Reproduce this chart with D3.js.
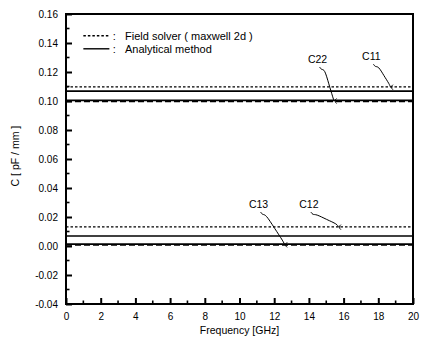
<!DOCTYPE html>
<html>
<head>
<meta charset="utf-8">
<script src="https://cdn.jsdelivr.net/npm/d3@7"></script>
<style>
  body { margin: 0; background: #fff; }
  svg { font-family: "Liberation Sans", Arial, sans-serif; }
</style>
</head>
<body>
<svg id="chart"></svg>
<script>
// data
const freqRange = [0, 20];
const xTicks = [0, 2, 4, 6, 8, 10, 12, 14, 16, 18, 20];
const yTicks = [-0.04, -0.02, 0.0, 0.02, 0.04, 0.06, 0.08, 0.1, 0.12, 0.14, 0.16];
const fieldSolver = [
  { name: "C11", value: 0.1097 },
  { name: "C22", value: 0.0996 },
  { name: "C12", value: 0.0132 },
  { name: "C13", value: 0.0006 }
];
const analytical = [
  { name: "C11", value: 0.1068 },
  { name: "C22", value: 0.1004 },
  { name: "C12", value: 0.0069 },
  { name: "C13", value: 0.0013 }
];
// label position and where the leader ends, in data units
const labels = [
  { text: "C22", lx: 14.5, ly: 0.1262, ex: 15.45, ey: 0.1 },
  { text: "C11", lx: 17.6, ly: 0.1282, ex: 18.7, ey: 0.1095 },
  { text: "C13", lx: 11.1, ly: 0.0262, ex: 12.6, ey: 0.0008 },
  { text: "C12", lx: 14.0, ly: 0.0262, ex: 15.7, ey: 0.013 }
];
const legendItems = [
  { label: "Field solver ( maxwell 2d )", dash: "2.5,2", ly: 0.145 },
  { label: "Analytical  method", dash: null, ly: 0.136 }
];

let width = 423;
let height = 344;
let margin = { top: 14, right: 10, bottom: 40, left: 66 };

let svg = d3.select("#chart").attr("width", width).attr("height", height);

let x = d3.scaleLinear().domain(freqRange).range([margin.left, width - margin.right]);
let y = d3.scaleLinear().domain([-0.04, 0.16]).range([height - margin.bottom, margin.top]);

// axes (ticks inward)
let xAxis = d3.axisBottom(x).tickValues(xTicks).tickSize(-6).tickPadding(9).tickFormat(d3.format("d"));
let yAxis = d3.axisLeft(y).tickValues(yTicks).tickSize(-6).tickPadding(8)
  .tickFormat((d) => d3.format(".2f")(d).replace("\u2212", "-"));

let gx = svg.append("g").attr("transform", "translate(0," + (height - margin.bottom) + ")").call(xAxis);
let gy = svg.append("g").attr("transform", "translate(" + margin.left + ",0)").call(yAxis);
[gx, gy].forEach((g) => {
  g.select(".domain").remove();
  g.selectAll("line").attr("stroke", "#000").attr("stroke-width", 2);
  g.selectAll("text").attr("fill", "#000").style("font-size", "10px");
});

// minor ticks
svg.append("g").selectAll("line")
  .data(d3.range(1, 20, 2))
  .enter().append("line")
  .attr("x1", (d) => x(d)).attr("x2", (d) => x(d))
  .attr("y1", height - margin.bottom).attr("y2", height - margin.bottom - 3.5)
  .attr("stroke", "#000").attr("stroke-width", 1.6);
svg.append("g").selectAll("line")
  .data(d3.range(-0.03, 0.16, 0.02))
  .enter().append("line")
  .attr("x1", margin.left).attr("x2", margin.left + 3.5)
  .attr("y1", (d) => y(d)).attr("y2", (d) => y(d))
  .attr("stroke", "#000").attr("stroke-width", 1.6);

// frame
svg.append("rect")
  .attr("x", margin.left).attr("y", margin.top)
  .attr("width", width - margin.left - margin.right)
  .attr("height", height - margin.top - margin.bottom)
  .attr("fill", "none").attr("stroke", "#000").attr("stroke-width", 2);

// series lines
svg.append("g").selectAll("line")
  .data(fieldSolver)
  .enter().append("line")
  .attr("x1", x(0)).attr("x2", x(20))
  .attr("y1", (d) => y(d.value)).attr("y2", (d) => y(d.value))
  .attr("stroke", "#000").attr("stroke-width", 1.3)
  .attr("stroke-dasharray", (d) => (d.name == "C22" || d.name == "C13") ? "6,3" : "2.5,2");
svg.append("g").selectAll("line")
  .data(analytical)
  .enter().append("line")
  .attr("x1", x(0)).attr("x2", x(20))
  .attr("y1", (d) => y(d.value)).attr("y2", (d) => y(d.value))
  .attr("stroke", "#000").attr("stroke-width", 1.6);

// annotations
let leader = d3.line().curve(d3.curveBasis);
let ann = svg.append("g");
labels.forEach((d) => {
  let sx = x(d.lx) + 6, sy = y(d.ly) + 4;
  let exx = x(d.ex), eyy = y(d.ey);
  ann.append("text")
    .attr("x", x(d.lx)).attr("y", y(d.ly))
    .attr("text-anchor", "middle")
    .style("font-size", "10.5px")
    .text(d.text);
  ann.append("path")
    .attr("d", leader([
      [sx - 4, sy],
      [sx - 2, sy + 3],
      [sx + 1, sy + 2],
      [(sx + exx) / 2, (sy + eyy) / 2],
      [exx - 1, eyy - 3],
      [exx, eyy]
    ]))
    .attr("fill", "none").attr("stroke", "#000").attr("stroke-width", 1);
  ann.append("path")
    .attr("d", "M" + (exx + 2.5) + "," + (eyy - 2.5) + " A3,3 0 0,0 " + (exx + 2.5) + "," + (eyy + 2.5))
    .attr("fill", "none").attr("stroke", "#000").attr("stroke-width", 1);
});

// legend
let legend = svg.append("g");
legendItems.forEach((d) => {
  legend.append("line")
    .attr("x1", x(1)).attr("x2", x(2.5))
    .attr("y1", y(d.ly)).attr("y2", y(d.ly))
    .attr("stroke", "#000").attr("stroke-width", 1.4)
    .attr("stroke-dasharray", d.dash);
  legend.append("text")
    .attr("x", x(2.7)).attr("y", y(d.ly) + 4)
    .style("font-size", "11px")
    .text(":");
  legend.append("text")
    .attr("x", x(3.4)).attr("y", y(d.ly) + 4)
    .style("font-size", "11px")
    .text(d.label);
});

// axis titles
svg.append("text")
  .attr("x", (margin.left + width - margin.right) / 2).attr("y", height - 10)
  .attr("text-anchor", "middle")
  .style("font-size", "10.5px")
  .text("Frequency [GHz]");
svg.append("text")
  .attr("transform", "translate(19," + y(0.062) + ") rotate(-90)")
  .attr("text-anchor", "middle")
  .style("font-size", "10.5px")
  .text("C [ pF / mm ]");
</script>
</body>
</html>
